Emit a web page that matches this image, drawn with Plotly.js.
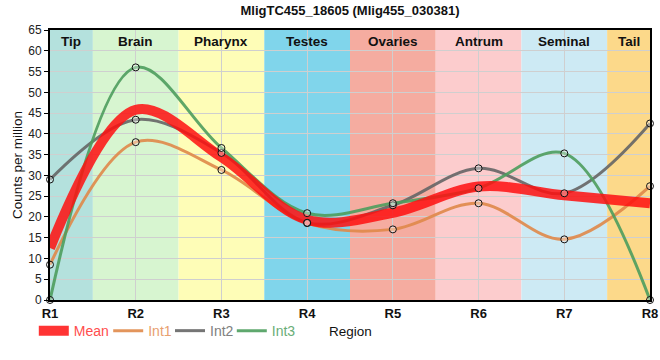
<!DOCTYPE html>
<html><head><meta charset="utf-8">
<script src="https://cdn.plot.ly/plotly-3.0.1.min.js"></script>
<style>body{margin:0;padding:0;background:#fff}#chart{width:660px;height:360px}</style>
</head><body><div id="chart"></div>
<script>
const regions = ['R1','R2','R3','R4','R5','R6','R7','R8'];
const bandNames = ['Tip','Brain','Pharynx','Testes','Ovaries','Antrum','Seminal','Tail'];
const bandColors = ['#b4e1dd','#d7f5d0','#fefdb7','#80d5eb','#f5aca0','#fccccd','#cdeaf4','#fcd98a'];
const meanVals = [12.5, 45.8, 34.4, 19.3, 21.0, 27.3, 25.2, 23.3];
const int1Vals = [8.5, 38.0, 31.3, 18.5, 17.0, 23.3, 14.6, 27.4];
const int2Vals = [29.0, 43.4, 35.4, 18.6, 22.8, 31.7, 25.7, 42.5];
const int3Vals = [0.0, 56.0, 36.6, 20.9, 23.3, 26.9, 35.3, 0.0];

const xs = regions.map((r,i)=>i+1);
const FONT = 'Liberation Sans, Arial, sans-serif';

function series(name, vals, color, width, textColor, legendId, op){
  return {
    x: xs, y: vals, type:'scatter', mode:'lines',
    name: '<span style="color:'+textColor+'">'+name+'</span>',
    line:{color:color, width:width, shape:'spline', smoothing:1.0},
    opacity: op, legend: legendId, hoverinfo:'skip',
    cliponaxis:false
  };
}

const traces = [
  series('Int1', int1Vals, '#e0894a', 3, '#e8a070', 'legend2', 0.9),
  series('Int2', int2Vals, '#666666', 3, '#808080', 'legend3', 0.9),
  series('Int3', int3Vals, '#4e9e5e', 3, '#6aae78', 'legend4', 0.9),
  series('Mean', meanVals, '#ff1010', 10, '#ff4d4d', 'legend', 0.85)
];
const markerTraces = [int1Vals,int2Vals,int3Vals].map(v=>({
  x: xs, y: v, type:'scatter', mode:'markers', showlegend:false, hoverinfo:'skip',
  marker:{symbol:'circle', size:7, color:'rgba(255,255,255,0.35)', line:{width:1, color:'#111'}}, cliponaxis:false
}));

const shapes = bandNames.map((n,i)=>({
  type:'rect', xref:'x', yref:'paper', layer:'below',
  x0: Math.max(1, i+0.5), x1: Math.min(8, i+1.5), y0:0, y1:1,
  fillcolor: bandColors[i], line:{width:0}
}));
const annotations = bandNames.map((n,i)=>({
  x: (Math.max(1, i+0.5)+Math.min(8, i+1.5))/2, y: 62.3, xref:'x', yref:'y',
  text:'<b>'+n+'</b>', showarrow:false, font:{family:FONT, size:13.5, color:'#111'}
}));
annotations.push({xref:'paper', yref:'paper', x:0.5, y:-0.115, yanchor:'middle', xanchor:'center',
  text:'Region', showarrow:false, font:{family:FONT, size:13.5, color:'#111'}});

function leg(x){
  return {orientation:'h', x:x, xanchor:'left', y:-0.115, yanchor:'middle', font:{family:FONT, size:14}, bgcolor:'rgba(0,0,0,0)', itemwidth:30};
}

const layout = {
  width:660, height:360,
  margin:{l:50, r:10, t:30, b:60},
  paper_bgcolor:'#fff', plot_bgcolor:'rgba(0,0,0,0)',
  title:{text:'<b>MligTC455_18605 (Mlig455_030381)</b>', x:0.5, xref:'paper', xanchor:'center', y:0.985, yref:'container', yanchor:'top',
    font:{family:FONT, size:13, color:'#111'}},
  xaxis:{range:[1,8], tickvals:xs, ticktext:regions.map(r=>'<b>'+r+'</b>'), showgrid:true, gridcolor:'#cfcfcf', gridwidth:1,
    showline:true, linecolor:'#000', linewidth:2, mirror:true, zeroline:false, ticks:'',
    tickfont:{family:FONT, size:13, color:'#111'}, layer:'above traces'},
  yaxis:{range:[0,65], dtick:5, showgrid:true, gridcolor:'#cfcfcf', gridwidth:1,
    showline:true, linecolor:'#000', linewidth:2, mirror:true, zeroline:false, ticks:'outside', ticklen:4, tickcolor:'#000',
    tickfont:{family:FONT, size:12, color:'#222'},
    title:{text:'Counts per million', font:{family:FONT, size:13.5, color:'#111'}, standoff:3}},
  legend: leg(-0.027), legend2: leg(0.097), legend3: leg(0.2), legend4: leg(0.303),
  shapes:shapes, annotations:annotations, showlegend:true
};
Plotly.newPlot('chart', traces.concat(markerTraces), layout, {displayModeBar:false, staticPlot:true});
</script></body></html>
